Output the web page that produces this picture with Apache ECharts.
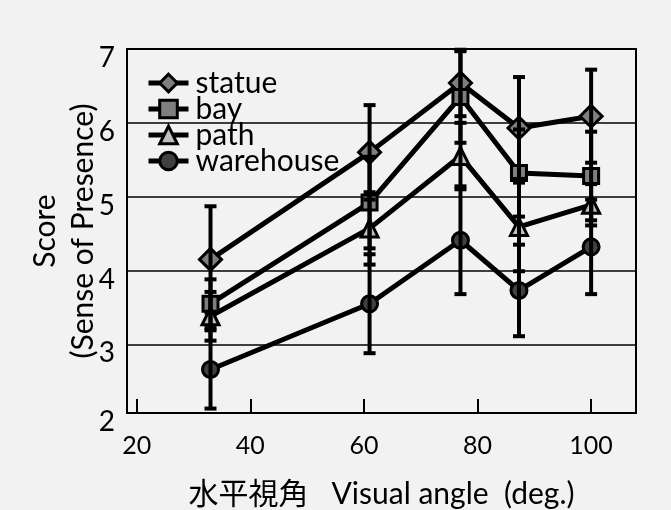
<!DOCTYPE html>
<html><head><meta charset="utf-8">
<script src="https://cdn.jsdelivr.net/npm/echarts@6/dist/echarts.min.js"></script>
<style>html,body{margin:0;padding:0;background:#f2f2f2}#c{width:671px;height:510px}</style>
</head><body><div id="c"></div><script>
// Visual angle (deg.) of each condition
const angles = [33, 61, 77, 87.3, 100];
const seriesNames = ['statue', 'bay', 'path', 'warehouse'];
// Mean scores
const statue    = [4.15, 5.60, 6.54, 5.93, 6.09];
const bay       = [3.55, 4.92, 6.35, 5.32, 5.28];
const path      = [3.38, 4.57, 5.55, 4.59, 4.89];
const warehouse = [2.66, 3.55, 4.41, 3.73, 4.32];
// Error bar half-lengths
const statueErr    = [0.72, 0.64, 0.45, 0.69, 0.63];
const bayErr       = [0.33, 0.62, 0.62, 0.59, 0.60];
const pathErr      = [0.33, 0.49, 0.45, 0.60, 0.28];
const warehouseErr = [0.53, 0.67, 0.73, 0.62, 0.64];
// Tick labels
const xTicks = [20, 40, 60, 80, 100];
const yTicks = [3, 4, 5, 6, 7];

const FONT = 'Lato, "Noto Sans CJK JP", sans-serif';
const means = [statue, bay, path, warehouse];
const errs = [statueErr, bayErr, pathErr, warehouseErr];
const symbols = ['diamond', 'rect', 'triangle', 'circle'];
const sizes = [22, 15, 17, 16];
const fills = ['#7f7f7f', '#7f7f7f', '#bfbfbf', '#404040'];

const lineSeries = seriesNames.map((n, i) => ({
  name: n, type: 'line', z: 3,
  data: angles.map((a, j) => [a, means[i][j]]),
  symbol: symbols[i], symbolSize: sizes[i],
  lineStyle: { color: '#000', width: 5 },
  itemStyle: { color: fills[i], borderColor: '#000', borderWidth: 3 },
  emphasis: { disabled: true },
  animation: false
}));

const errData = [];
seriesNames.forEach((n, i) => angles.forEach((a, j) => errData.push([a, means[i][j], errs[i][j]])));

const errSeries = {
  type: 'custom', z: 5, silent: true, animation: false,
  data: errData,
  encode: { x: 0, y: 1 },
  renderItem: function (params, api) {
    const x = api.value(0), y = api.value(1), e = api.value(2);
    const hi = api.coord([x, y + e]), lo = api.coord([x, y - e]);
    const cw = 6;
    const st = { stroke: '#000', lineWidth: 4 };
    return { type: 'group', children: [
      { type: 'line', shape: { x1: hi[0], y1: hi[1], x2: lo[0], y2: lo[1] }, style: st },
      { type: 'line', shape: { x1: hi[0] - cw, y1: hi[1], x2: hi[0] + cw, y2: hi[1] }, style: st },
      { type: 'line', shape: { x1: lo[0] - cw, y1: lo[1], x2: lo[0] + cw, y2: lo[1] }, style: st }
    ]};
  }
};

const chart = echarts.init(document.getElementById('c'));
chart.setOption({
  backgroundColor: '#f2f2f2',
  animation: false,
  grid: { left: 127, right: 35, top: 49, bottom: 97, outerBoundsMode: 'none', containLabel: false, show: true, borderColor: '#000', borderWidth: 2, backgroundColor: 'transparent' },
  legend: {
    data: seriesNames, orient: 'vertical', left: 146, top: 68, padding: 0,
    itemWidth: 40, itemHeight: 22, itemGap: -4,
    lineStyle: { color: '#000', width: 5 },
    itemStyle: { borderColor: '#000', borderWidth: 3 },
    textStyle: { fontFamily: FONT, fontSize: 30, lineHeight: 22, color: '#000', padding: [0, 0, 0, 2] }
  },
  xAxis: {
    type: 'value', min: 18.3, max: 107.9,
    name: '水平視角   Visual angle  (deg.)', nameLocation: 'middle', nameGap: 66, nameMoveOverlap: false,
    nameTextStyle: { fontFamily: FONT, fontSize: 30, color: '#000' },
    axisLine: { lineStyle: { color: '#000', width: 2 } },
    axisTick: { show: true, inside: true, length: 14, customValues: xTicks, lineStyle: { color: '#000', width: 2 } },
    axisLabel: { customValues: xTicks, margin: 20, fontFamily: FONT, fontSize: 25, color: '#000' },
    splitLine: { show: false }
  },
  yAxis: {
    type: 'value', min: 2.07, max: 7,
    name: 'Score\n(Sense of Presence)', nameLocation: 'middle', nameGap: 25, nameRotate: 90, nameMoveOverlap: false,
    nameTextStyle: { fontFamily: FONT, fontSize: 30, color: '#000', lineHeight: 38 },
    axisLine: { show: true, lineStyle: { color: '#000', width: 2 } },
    axisTick: { show: false, customValues: yTicks },
    axisLabel: { customValues: [2.07].concat(yTicks), formatter: v => String(Math.round(v)), margin: 12, fontFamily: FONT, fontSize: 28, color: '#000', verticalAlign: 'top', lineHeight: 18 },
    splitLine: { show: true, lineStyle: { color: '#000', width: 1.5 } }
  },
  series: lineSeries.concat([errSeries])
});
</script></body></html>
